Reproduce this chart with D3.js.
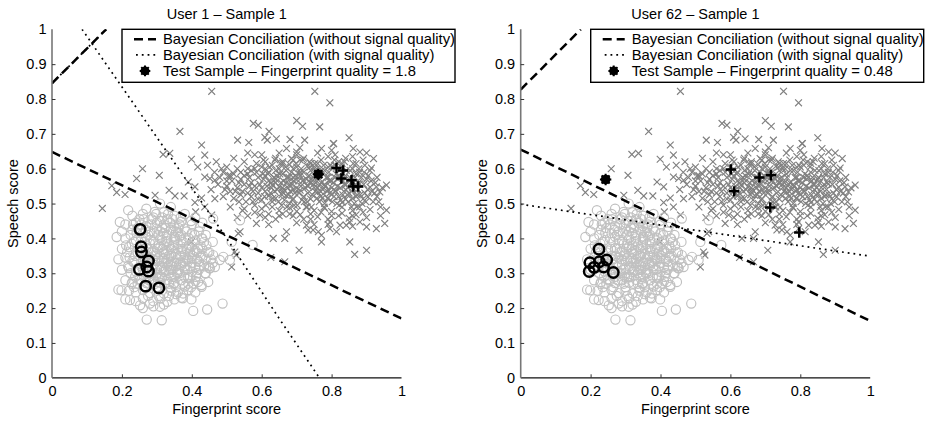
<!DOCTYPE html>
<html>
<head>
<meta charset="utf-8">
<script src="https://cdn.jsdelivr.net/npm/d3@7/dist/d3.min.js"></script>
<style>
  html, body { margin: 0; padding: 0; background: #fff; }
  svg { display: block; }
  text { font-family: "Liberation Sans", Arial, Helvetica, sans-serif; fill: #000; }
</style>
</head>
<body>
<svg id="chart" width="927" height="421"></svg>
<script>
// ---- data -------------------------------------------------------------
// Background score clouds (fingerprint score, speech score), shared by both panels
const clientScores = [
  [0.457,0.822],[0.752,0.822],[0.795,0.789],[0.576,0.730],[0.590,0.725],[0.621,0.707],[0.700,0.738],
  [0.717,0.722],[0.766,0.720],[0.366,0.707],[0.531,0.682],[0.563,0.675],[0.609,0.690],[0.616,0.682],
  [0.642,0.686],[0.681,0.684],[0.723,0.682],[0.850,0.689],[0.428,0.668],[0.806,0.672],[0.399,0.627],
  [0.437,0.639],[0.318,0.641],[0.337,0.644],[0.417,0.605],[0.259,0.600],[0.242,0.572],[0.307,0.581],
  [0.171,0.551],[0.185,0.532],[0.209,0.526],[0.144,0.486],[0.295,0.524],[0.335,0.538],[0.352,0.522],
  [0.378,0.522],[0.409,0.503],[0.390,0.562],[0.409,0.548],[0.437,0.576],[0.452,0.572],[0.466,0.567],
  [0.411,0.476],[0.437,0.490],[0.466,0.514],[0.457,0.467],[0.428,0.516],[0.538,0.419],[0.523,0.361],
  [0.514,0.318],[0.399,0.390],[0.709,0.660],[0.671,0.658],[0.700,0.648],[0.685,0.629],[0.771,0.658],
  [0.805,0.672],[0.800,0.653],[0.862,0.658],[0.881,0.648],[0.920,0.629],[0.895,0.610],[0.914,0.602],
  [0.957,0.553],[0.928,0.548],[0.938,0.533],[0.904,0.519],[0.919,0.505],[0.957,0.481],[0.952,0.443],
  [0.928,0.428],[0.881,0.447],[0.900,0.433],[0.852,0.447],[0.842,0.438],[0.795,0.428],[0.814,0.419],
  [0.852,0.390],[0.900,0.366],[0.866,0.354],[0.633,0.400],[0.666,0.400],[0.671,0.419],[0.707,0.366],
  [0.771,0.390],[0.771,0.409],[0.747,0.424],[0.762,0.419],[0.795,0.447],[0.824,0.438],[0.585,0.443],
  [0.595,0.467],[0.728,0.438],[0.733,0.424],[0.626,0.345],[0.666,0.333],[0.527,0.352],[0.533,0.414],
  [0.52,0.63],[0.55,0.62],[0.58,0.64],[0.61,0.62],[0.64,0.63],[0.66,0.615],[0.69,0.625],[0.72,0.63],
  [0.74,0.615],[0.77,0.625],[0.79,0.635],[0.82,0.62],[0.84,0.63],[0.87,0.615],[0.89,0.625],[0.47,0.62],
  [0.50,0.605],[0.56,0.60],[0.49,0.59],[0.53,0.60],[0.57,0.595],[0.60,0.605],[0.62,0.59],[0.65,0.60],
  [0.67,0.595],[0.70,0.605],[0.72,0.59],[0.75,0.60],[0.78,0.595],[0.80,0.605],[0.83,0.59],[0.86,0.60],
  [0.88,0.59],[0.91,0.595],[0.63,0.61],[0.68,0.612],[0.73,0.607],[0.81,0.61],[0.48,0.575],[0.51,0.58],
  [0.54,0.57],[0.56,0.585],[0.59,0.575],[0.61,0.58],[0.64,0.57],[0.66,0.585],[0.69,0.575],[0.71,0.58],
  [0.74,0.57],[0.76,0.585],[0.79,0.575],[0.82,0.58],[0.85,0.57],[0.87,0.585],[0.90,0.57],[0.93,0.575],
  [0.62,0.565],[0.67,0.56],[0.72,0.567],[0.77,0.56],[0.83,0.563],[0.50,0.55],[0.53,0.545],[0.55,0.555],
  [0.58,0.55],[0.60,0.545],[0.63,0.553],[0.65,0.548],[0.68,0.555],[0.70,0.545],[0.73,0.552],[0.75,0.546],
  [0.78,0.555],[0.80,0.545],[0.84,0.553],[0.86,0.546],[0.88,0.556],[0.91,0.547],[0.61,0.535],[0.66,0.532],
  [0.71,0.538],[0.76,0.533],[0.81,0.537],[0.85,0.53],[0.49,0.52],[0.52,0.515],[0.54,0.525],[0.57,0.52],
  [0.59,0.513],[0.62,0.522],[0.64,0.515],[0.67,0.523],[0.69,0.514],[0.72,0.52],[0.74,0.513],[0.77,0.522],
  [0.79,0.515],[0.82,0.52],[0.84,0.512],[0.87,0.52],[0.89,0.513],[0.93,0.52],[0.63,0.505],[0.68,0.50],
  [0.73,0.505],[0.78,0.50],[0.83,0.503],[0.51,0.49],[0.55,0.485],[0.58,0.495],[0.60,0.485],[0.63,0.49],
  [0.65,0.48],[0.68,0.488],[0.70,0.478],[0.73,0.49],[0.75,0.48],[0.78,0.487],[0.80,0.477],[0.83,0.49],
  [0.86,0.48],[0.88,0.49],[0.91,0.483],[0.94,0.49],[0.53,0.46],[0.56,0.465],[0.61,0.46],[0.64,0.455],
  [0.69,0.465],[0.72,0.455],[0.76,0.462],[0.79,0.455],[0.82,0.465],[0.85,0.458],[0.87,0.468],[0.90,0.46],
  [0.94,0.465],[0.66,0.47],[0.74,0.47],[0.62,0.44],[0.70,0.445],[0.75,0.44],[0.86,0.435],[0.79,0.44],
  [0.605,0.57],[0.615,0.55],[0.625,0.53],[0.635,0.575],[0.645,0.54],[0.655,0.56],[0.665,0.51],[0.675,0.545],
  [0.685,0.59],[0.695,0.53],[0.705,0.565],[0.715,0.51],[0.725,0.545],[0.735,0.58],[0.745,0.525],[0.755,0.56],
  [0.765,0.505],[0.775,0.54],[0.785,0.575],[0.795,0.53],[0.805,0.56],[0.815,0.50],[0.825,0.545],[0.835,0.575],
  [0.845,0.525],[0.855,0.56],[0.865,0.50],[0.875,0.54],[0.885,0.575],[0.895,0.53],[0.69,0.60],[0.74,0.595],
  [0.79,0.605],[0.64,0.595],[0.60,0.51],[0.56,0.53],[0.57,0.56],[0.58,0.60],
  [0.555,0.505],[0.565,0.575],[0.575,0.535],[0.585,0.615],[0.595,0.555],[0.605,0.625],[0.612,0.495],[0.618,0.585],
  [0.628,0.545],[0.632,0.515],[0.638,0.625],[0.648,0.505],[0.652,0.585],[0.658,0.525],[0.662,0.565],[0.668,0.605],
  [0.672,0.49],[0.678,0.575],[0.682,0.535],[0.688,0.51],[0.692,0.565],[0.698,0.615],[0.702,0.495],[0.708,0.585],
  [0.712,0.55],[0.718,0.625],[0.722,0.505],[0.728,0.57],[0.732,0.53],[0.738,0.605],[0.742,0.49],[0.748,0.555],
  [0.752,0.615],[0.758,0.515],[0.762,0.575],[0.768,0.535],[0.772,0.595],[0.778,0.49],[0.782,0.55],[0.788,0.515],
  [0.792,0.59],[0.798,0.565],[0.802,0.505],[0.808,0.625],[0.812,0.535],[0.818,0.57],[0.822,0.495],[0.828,0.605],
  [0.832,0.525],[0.838,0.555],[0.842,0.595],[0.848,0.505],[0.852,0.575],[0.858,0.535],[0.862,0.615],[0.868,0.555],
  [0.872,0.49],[0.878,0.60],[0.882,0.525],[0.892,0.555],[0.898,0.505],[0.905,0.58],[0.915,0.535],[0.925,0.56],
  [0.935,0.505],[0.945,0.545],[0.54,0.59],[0.545,0.48],[0.535,0.56],[0.525,0.535],[0.515,0.565],[0.505,0.58],
  [0.495,0.54],[0.485,0.60],[0.475,0.555],[0.465,0.59],[0.455,0.54],[0.445,0.61],[0.62,0.47],[0.65,0.465],
  [0.68,0.47],[0.71,0.468],[0.74,0.455],[0.77,0.475],[0.80,0.465],[0.83,0.472],[0.86,0.465],[0.89,0.475],
  [0.58,0.475],[0.60,0.64],[0.65,0.645],[0.70,0.64],[0.76,0.645],[0.81,0.64],[0.86,0.635],[0.90,0.645],
  [0.56,0.645],[0.71,0.59],[0.66,0.545],[0.76,0.545],[0.81,0.575],[0.86,0.515],[0.64,0.56],[0.69,0.54],
  [0.74,0.56],[0.79,0.54],[0.84,0.54],[0.61,0.60],[0.66,0.62],[0.71,0.625],[0.76,0.615],[0.83,0.615],
  [0.603,0.585],[0.608,0.52],[0.622,0.605],[0.627,0.56],[0.637,0.535],[0.643,0.58],[0.653,0.615],[0.657,0.495],
  [0.663,0.54],[0.673,0.575],[0.677,0.525],[0.687,0.555],[0.693,0.495],[0.697,0.58],[0.707,0.53],[0.713,0.60],
  [0.717,0.565],[0.727,0.49],[0.733,0.55],[0.737,0.62],[0.747,0.575],[0.753,0.535],[0.757,0.60],[0.767,0.555],
  [0.773,0.515],[0.777,0.61],[0.787,0.535],[0.793,0.565],[0.797,0.61],[0.807,0.52],[0.813,0.585],[0.817,0.55],
  [0.827,0.51],[0.833,0.565],[0.837,0.62],[0.847,0.545],[0.853,0.595],[0.857,0.49],[0.867,0.575],[0.873,0.525],
  [0.877,0.56],[0.887,0.50],[0.893,0.59],[0.903,0.54],[0.913,0.565],[0.923,0.53],[0.59,0.53],[0.585,0.59],
  [0.575,0.505],[0.565,0.55],[0.55,0.58],[0.545,0.535],[0.535,0.505],[0.52,0.585],[0.51,0.535],[0.50,0.565]
];

const impostorScores = [
  [0.271,0.167],[0.314,0.165],[0.404,0.192],[0.444,0.196],[0.488,0.213],[0.190,0.253],[0.199,0.251],
  [0.194,0.447],[0.218,0.481],[0.185,0.404],[0.375,0.242],[0.428,0.261],[0.418,0.275],[0.461,0.352],
  [0.490,0.347],[0.480,0.338],[0.466,0.318],[0.423,0.433],[0.309,0.500],[0.294,0.476],[0.223,0.223],
  [0.252,0.208],[0.280,0.213],[0.309,0.204],[0.538,0.452],[0.574,0.381],[0.461,0.457],[0.514,0.390],
  [0.509,0.338],[0.452,0.314],[0.447,0.275],[0.428,0.266],[0.399,0.225],[0.374,0.228],
  [0.23,0.465],[0.26,0.47],[0.29,0.46],[0.32,0.475],[0.35,0.465],[0.38,0.47],[0.41,0.46],[0.27,0.485],
  [0.34,0.49],[0.21,0.44],[0.24,0.445],[0.27,0.435],[0.30,0.445],[0.32,0.44],[0.35,0.435],[0.37,0.448],
  [0.40,0.44],[0.43,0.445],[0.25,0.455],[0.33,0.455],[0.20,0.42],[0.23,0.425],[0.26,0.415],[0.28,0.42],
  [0.30,0.428],[0.32,0.415],[0.34,0.425],[0.36,0.418],[0.38,0.428],[0.40,0.415],[0.42,0.42],[0.44,0.41],
  [0.21,0.40],[0.24,0.395],[0.27,0.405],[0.29,0.395],[0.31,0.40],[0.33,0.392],[0.35,0.405],[0.37,0.395],
  [0.39,0.402],[0.41,0.394],[0.43,0.40],[0.46,0.39],[0.28,0.385],[0.32,0.38],[0.36,0.383],[0.40,0.378],
  [0.20,0.37],[0.22,0.375],[0.25,0.365],[0.27,0.372],[0.29,0.365],[0.31,0.375],[0.33,0.365],[0.35,0.372],
  [0.37,0.364],[0.39,0.373],[0.41,0.365],[0.43,0.37],[0.45,0.36],[0.30,0.355],[0.34,0.35],[0.38,0.352],
  [0.26,0.35],[0.19,0.34],[0.21,0.345],[0.23,0.335],[0.26,0.34],[0.28,0.345],[0.30,0.335],[0.32,0.342],
  [0.34,0.333],[0.36,0.34],[0.38,0.335],[0.40,0.343],[0.42,0.333],[0.44,0.34],[0.46,0.33],[0.29,0.325],
  [0.33,0.32],[0.37,0.323],[0.41,0.318],[0.20,0.31],[0.22,0.315],[0.24,0.305],[0.26,0.31],[0.28,0.303],
  [0.30,0.312],[0.32,0.304],[0.34,0.31],[0.36,0.302],[0.38,0.31],[0.40,0.304],[0.42,0.31],[0.44,0.30],
  [0.45,0.315],[0.27,0.29],[0.31,0.288],[0.35,0.29],[0.39,0.287],[0.21,0.28],[0.23,0.275],[0.25,0.283],
  [0.27,0.272],[0.29,0.28],[0.31,0.273],[0.33,0.281],[0.35,0.272],[0.37,0.28],[0.39,0.27],[0.41,0.278],
  [0.30,0.26],[0.34,0.258],[0.38,0.262],[0.22,0.25],[0.24,0.245],[0.26,0.252],[0.28,0.243],[0.30,0.25],
  [0.32,0.242],[0.34,0.25],[0.36,0.245],[0.39,0.252],[0.41,0.245],[0.21,0.225],[0.24,0.22],[0.26,0.228],
  [0.29,0.22],[0.31,0.227],[0.33,0.218],[0.35,0.225],[0.37,0.23],[0.26,0.20],[0.29,0.205],[0.32,0.21],
  [0.285,0.36],[0.295,0.385],[0.305,0.34],[0.315,0.395],[0.325,0.355],[0.335,0.38],[0.345,0.31],[0.355,0.355],
  [0.365,0.405],[0.375,0.33],[0.385,0.37],[0.295,0.31],[0.315,0.29],[0.335,0.30],[0.355,0.32],[0.305,0.41],
  [0.325,0.43],[0.345,0.42],[0.275,0.33],[0.265,0.39],[0.255,0.32],[0.245,0.36],[0.235,0.39],[0.225,0.30],
  [0.395,0.32],[0.405,0.36],[0.415,0.34],[0.425,0.38],
  [0.215,0.36],[0.225,0.41],[0.235,0.33],[0.245,0.43],[0.255,0.28],[0.255,0.40],[0.265,0.34],[0.265,0.26],
  [0.275,0.41],[0.275,0.37],[0.285,0.30],[0.285,0.44],[0.295,0.35],[0.295,0.27],[0.305,0.38],[0.305,0.29],
  [0.315,0.34],[0.315,0.43],[0.325,0.31],[0.325,0.39],[0.335,0.27],[0.335,0.35],[0.345,0.38],[0.345,0.29],
  [0.355,0.42],[0.355,0.26],[0.365,0.35],[0.365,0.30],[0.375,0.39],[0.375,0.27],[0.385,0.34],[0.385,0.42],
  [0.395,0.29],[0.395,0.36],[0.405,0.39],[0.405,0.27],[0.415,0.36],[0.415,0.30],[0.425,0.35],[0.435,0.32],
  [0.435,0.39],[0.445,0.36],[0.455,0.34],[0.245,0.27],[0.235,0.26],[0.275,0.235],[0.305,0.235],[0.335,0.235],
  [0.355,0.24],[0.315,0.46],[0.345,0.455],[0.365,0.44],[0.285,0.455],[0.255,0.44],[0.31,0.32],[0.33,0.34],
  [0.35,0.33],[0.37,0.35],[0.32,0.36],[0.34,0.37],[0.36,0.37],[0.33,0.40],[0.35,0.39],[0.37,0.41],
  [0.31,0.42],[0.30,0.30],[0.32,0.33],[0.34,0.32],[0.36,0.31],[0.38,0.32],[0.39,0.34],[0.40,0.33],
  [0.222,0.345],[0.228,0.385],[0.238,0.35],[0.242,0.415],[0.248,0.31],[0.258,0.37],[0.262,0.295],[0.268,0.425],
  [0.272,0.35],[0.278,0.28],[0.282,0.395],[0.288,0.34],[0.292,0.415],[0.298,0.29],[0.302,0.37],[0.308,0.45],
  [0.312,0.31],[0.318,0.37],[0.322,0.27],[0.328,0.41],[0.332,0.33],[0.338,0.445],[0.342,0.35],[0.348,0.27],
  [0.352,0.40],[0.358,0.30],[0.362,0.43],[0.368,0.33],[0.372,0.37],[0.378,0.29],[0.382,0.40],[0.388,0.31],
  [0.392,0.38],[0.398,0.26],[0.402,0.35],[0.408,0.41],[0.412,0.29],[0.418,0.37],[0.422,0.32],[0.428,0.40],
  [0.432,0.35],[0.438,0.30],[0.442,0.38],[0.448,0.32],[0.228,0.27],[0.238,0.29],[0.218,0.32],[0.212,0.38],
  [0.232,0.44],[0.262,0.455],[0.298,0.47],[0.332,0.47],[0.368,0.46],[0.398,0.45]
];

// User 1: own impostor/genuine scores, test sample and decision boundaries
const user1Impostor = [[0.252,0.426],[0.255,0.376],[0.256,0.361],[0.276,0.335],[0.250,0.311],
  [0.271,0.318],[0.276,0.306],[0.268,0.263],[0.306,0.258]];
const user1Genuine = [[0.814,0.602],[0.833,0.595],[0.828,0.572],[0.857,0.567],[0.862,0.549],[0.876,0.549]];
const user1Test = [0.762,0.584];
const user1Quality = "1.8";
const user1BoundaryNoQuality = [[[0,0.648],[1,0.170]], [[0,0.845],[0.155,1.0]]];
const user1BoundaryQuality = [[[0.086,1.0],[0.30,0.69],[0.50,0.40],[0.65,0.17],[0.765,0.0]], [[0,0.845],[0.155,1.0]]];

// User 62
const user62Impostor = [[0.224,0.369],[0.198,0.330],[0.196,0.305],[0.225,0.333],[0.237,0.318],
  [0.265,0.302],[0.210,0.317],[0.246,0.338]];
const user62Genuine = [[0.601,0.598],[0.611,0.535],[0.683,0.575],[0.716,0.581],[0.714,0.489],[0.797,0.417]];
const user62Test = [0.243,0.569];
const user62Quality = "0.48";
const user62BoundaryNoQuality = [[[0,0.655],[1,0.163]], [[0,0.827],[0.172,1.0]]];
const user62BoundaryQuality = [[[0,0.498],[1,0.349]]];

const axisTicks = [0, 0.1, 0.2, 0.3, 0.4, 0.5, 0.6, 0.7, 0.8, 0.9, 1];
const xTickValues = [0, 0.2, 0.4, 0.6, 0.8, 1];
const legendLabels = [
  "Bayesian Conciliation (without signal quality)",
  "Bayesian Conciliation (with signal quality)",
  "Test Sample \u2013 Fingerprint quality = "
];

// ---- drawing ----------------------------------------------------------
const svg = d3.select("#chart");
const FONT = 14.5;
const LEGEND_FONT = 14.8;
const DASH = "9,5";
const DOT = "1.8,4";

function asteriskPath(r) {
  const p = d3.path();
  for (let k = 0; k < 4; k++) {
    const a = k * Math.PI / 4;
    p.moveTo(-r * Math.cos(a), -r * Math.sin(a));
    p.lineTo(r * Math.cos(a), r * Math.sin(a));
  }
  return p.toString();
}

function drawPanel(cfg) {
  const x = d3.scaleLinear().domain([0, 1]).range([cfg.x0, cfg.x0 + 349.5]);
  const y = d3.scaleLinear().domain([0, 1]).range([377.8, 29.3]);
  const g = svg.append("g");
  const clipId = "clip" + cfg.id;
  svg.append("clipPath").attr("id", clipId).append("rect")
    .attr("x", x(0)).attr("y", y(1)).attr("width", x(1) - x(0)).attr("height", y(0) - y(1));

  // title
  g.append("text").attr("x", (x(0) + x(1)) / 2).attr("y", 18.5)
    .attr("text-anchor", "middle").style("font-size", FONT + "px").text(cfg.title);

  // background clouds
  const cloud = g.append("g").attr("clip-path", `url(#${clipId})`);
  const c = 3.4;
  cloud.selectAll("path.cross").data(clientScores).join("path")
    .attr("class", "cross")
    .attr("d", d => `M${x(d[0]) - c},${y(d[1]) - c}L${x(d[0]) + c},${y(d[1]) + c}M${x(d[0]) - c},${y(d[1]) + c}L${x(d[0]) + c},${y(d[1]) - c}`)
    .attr("stroke", "#808080").attr("stroke-width", 1.15).attr("fill", "none");
  cloud.selectAll("circle.imp").data(impostorScores).join("circle")
    .attr("class", "imp")
    .attr("cx", d => x(d[0])).attr("cy", d => y(d[1])).attr("r", 4.6)
    .attr("fill", "none").attr("stroke", "#c0c0c0").attr("stroke-width", 1.15);

  // decision boundaries
  const line = d3.line().x(d => x(d[0])).y(d => y(d[1]));
  const lines = g.append("g").attr("clip-path", `url(#${clipId})`);
  lines.selectAll("path.dotted").data(cfg.boundaryQuality).join("path")
    .attr("class", "dotted").attr("d", line)
    .attr("fill", "none").attr("stroke", "#000").attr("stroke-width", 1.7)
    .attr("stroke-dasharray", DOT);
  lines.selectAll("path.dashed").data(cfg.boundaryNoQuality).join("path")
    .attr("class", "dashed").attr("d", line)
    .attr("fill", "none").attr("stroke", "#000").attr("stroke-width", 2.5)
    .attr("stroke-dasharray", DASH);

  // user scores
  g.selectAll("circle.user").data(cfg.impostor).join("circle")
    .attr("class", "user")
    .attr("cx", d => x(d[0])).attr("cy", d => y(d[1])).attr("r", 5.2)
    .attr("fill", "none").attr("stroke", "#000").attr("stroke-width", 2.5);
  const p = 5.2;
  g.selectAll("path.plus").data(cfg.genuine).join("path")
    .attr("class", "plus")
    .attr("d", d => `M${x(d[0]) - p},${y(d[1])}H${x(d[0]) + p}M${x(d[0])},${y(d[1]) - p}V${y(d[1]) + p}`)
    .attr("stroke", "#000").attr("stroke-width", 2.5).attr("fill", "none");

  // test sample
  const ts = g.append("g").attr("transform", `translate(${x(cfg.test[0])},${y(cfg.test[1])})`);
  ts.append("circle").attr("r", 4.8).attr("fill", "#000");
  ts.append("path").attr("d", asteriskPath(5.7)).attr("stroke", "#000").attr("stroke-width", 2);

  // axes
  const xAxis = d3.axisBottom(x).tickValues(xTickValues).tickSize(-3.5).tickPadding(8)
    .tickFormat(d3.format("~g"));
  const yAxis = d3.axisLeft(y).tickValues(axisTicks).tickSize(-3.5).tickPadding(5.5)
    .tickFormat(d3.format("~g"));
  const gx = g.append("g").attr("transform", `translate(0,${y(0)})`).call(xAxis);
  const gy = g.append("g").attr("transform", `translate(${x(0)},0)`).call(yAxis);
  gx.select(".domain").attr("d", `M${x(0)},0H${x(1)}`).attr("stroke", "#111").attr("stroke-width", 1.2);
  gy.select(".domain").attr("d", `M0,${y(0)}V${y(1)}`).attr("stroke", "#777").attr("stroke-width", 1.6);
  [gx, gy].forEach(a => {
    a.selectAll(".tick line").attr("stroke", "#333").attr("stroke-width", 1);
    a.selectAll(".tick text").style("font-size", FONT + "px")
      .style("font-family", '"Liberation Sans", Arial, sans-serif').attr("fill", "#000");
  });
  gx.selectAll(".tick").filter(d => d === 0 || d === 1).select("line").remove();
  gy.selectAll(".tick").filter(d => d === 0 || d === 1).select("line").remove();

  // axis titles
  g.append("text").attr("x", (x(0) + x(1)) / 2).attr("y", 413.5)
    .attr("text-anchor", "middle").style("font-size", FONT + "px").text("Fingerprint score");
  g.append("text").attr("transform", `translate(${cfg.x0 - 34},${(y(0) + y(1)) / 2}) rotate(-90)`)
    .attr("text-anchor", "middle").style("font-size", FONT + "px").text("Speech score");

  // legend
  const lx = x(0) + 70, ly = y(1), lw = 333, lh = 53;
  const lg = g.append("g");
  lg.append("rect").attr("x", lx).attr("y", ly).attr("width", lw).attr("height", lh)
    .attr("fill", "#fff").attr("stroke", "#000").attr("stroke-width", 1.4);
  const rows = [ly + 10, ly + 25.6, ly + 41.6];
  lg.append("line").attr("x1", lx + 12).attr("x2", lx + 34).attr("y1", rows[0]).attr("y2", rows[0])
    .attr("stroke", "#000").attr("stroke-width", 2.5).attr("stroke-dasharray", DASH);
  lg.append("line").attr("x1", lx + 14).attr("x2", lx + 34).attr("y1", rows[1]).attr("y2", rows[1])
    .attr("stroke", "#000").attr("stroke-width", 1.7).attr("stroke-dasharray", DOT);
  const lm = lg.append("g").attr("transform", `translate(${lx + 23},${rows[2]})`);
  lm.append("circle").attr("r", 4.5).attr("fill", "#000");
  lm.append("path").attr("d", asteriskPath(5.3)).attr("stroke", "#000").attr("stroke-width", 2);
  const labels = [legendLabels[0], legendLabels[1], legendLabels[2] + cfg.quality];
  const baselines = [ly + 14.8, ly + 30.8, ly + 46.5];
  lg.selectAll("text.leg").data(labels).join("text")
    .attr("class", "leg")
    .attr("x", lx + 41).attr("y", (d, i) => baselines[i])
    .style("font-size", LEGEND_FONT + "px").text(d => d);
}

drawPanel({
  id: 1, x0: 52, title: "User 1 \u2013 Sample 1",
  impostor: user1Impostor, genuine: user1Genuine, test: user1Test, quality: user1Quality,
  boundaryNoQuality: user1BoundaryNoQuality, boundaryQuality: user1BoundaryQuality
});
drawPanel({
  id: 62, x0: 520.7, title: "User 62 \u2013 Sample 1",
  impostor: user62Impostor, genuine: user62Genuine, test: user62Test, quality: user62Quality,
  boundaryNoQuality: user62BoundaryNoQuality, boundaryQuality: user62BoundaryQuality
});
</script>
</body>
</html>
